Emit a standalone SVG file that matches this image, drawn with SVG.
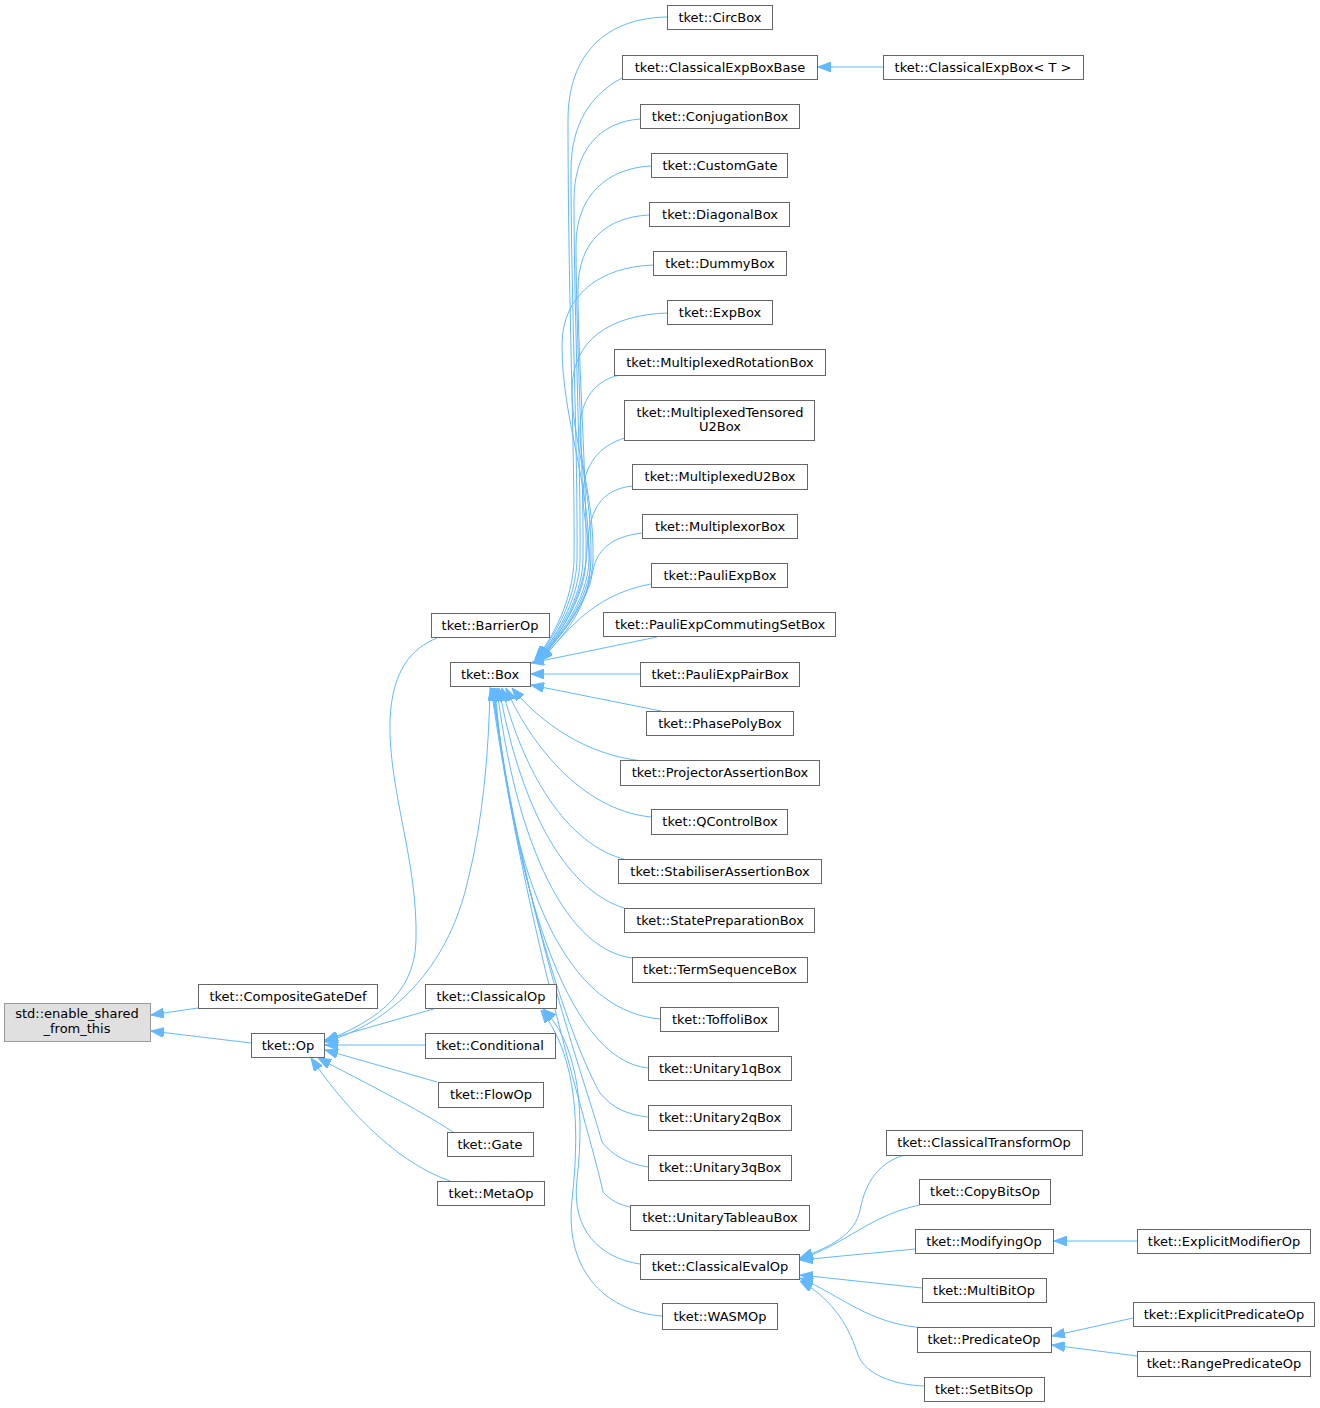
<svg xmlns="http://www.w3.org/2000/svg" width="1320" height="1408" viewBox="0 0 1320 1408">
<style>
.n rect{fill:#fff;stroke:#666;stroke-width:1}
.g rect{fill:#e0e0e0;stroke:#999}
text{font-family:"DejaVu Sans","Liberation Sans",sans-serif;font-size:13px;fill:#000;text-anchor:middle}
#edges path{fill:none;stroke:#63b8ff;stroke-width:1}
#edges path.a{marker-start:url(#arr)}
</style>
<defs>
<marker id="arr" markerUnits="userSpaceOnUse" markerWidth="13" markerHeight="10" refX="13" refY="5" orient="auto-start-reverse" viewBox="0 0 13 10">
<path d="M0,0 L13,5 L0,10 z" fill="#63b8ff" stroke="#63b8ff" stroke-width="1"/>
</marker>
</defs>
<rect width="1320" height="1408" fill="#fff"/>
<g id="edges">
<path class="a" d="M535,659 C552,640 573,600 574,560 C575,450 568,300 568,120 C568,55 605,18 667,17"/>
<path class="a" d="M535,660 C553,640 576,600 577,560 C578,450 571,300 571,170 C571,125 590,95 622,78"/>
<path class="a" d="M536,660 C554,641 579,600 580,560 C581,460 574,320 574,200 C574,150 600,122 640,119"/>
<path class="a" d="M536,659 C555,640 582,600 583,560 C584,470 576,340 576,245 C576,195 608,168 651,166"/>
<path class="a" d="M537,659 C556,640 585,600 586,560 C587,480 578,360 578,290 C578,240 608,217 649,215"/>
<path class="a" d="M537,660 C557,641 588,600 589,560 C590,480 562,420 562,345 C562,295 600,267 653,265"/>
<path class="a" d="M538,660 C558,641 590,600 591,560 C592,480 572,440 572,390 C572,340 610,315 667,313"/>
<path class="a" d="M538,659 C559,640 592,600 593,560 C594,500 580,470 580,430 C580,400 595,380 620,375"/>
<path class="a" d="M539,660 C560,641 593,605 590,560 C588,530 583,515 583,495 C583,465 600,445 625,438"/>
<path class="a" d="M539,660 C565,630 585,590 587,550 C589,510 600,490 632,486"/>
<path class="a" d="M540,660 C565,630 588,600 592,575 C596,550 610,537 642,533"/>
<path class="a" d="M540,661 C565,635 590,595 651,584"/>
<path class="a" d="M531,663 L657,637"/>
<path class="a" d="M531,674 L640,674"/>
<path class="a" d="M531,685 L661,711"/>
<path class="a" d="M512,688 C540,722 585,755 643,761"/>
<path class="a" d="M506,688 C528,740 580,810 651,817"/>
<path class="a" d="M502,688 C523,770 565,845 627,860"/>
<path class="a" d="M499,688 C518,795 560,890 627,909"/>
<path class="a" d="M497,688 C513,825 560,950 633,958"/>
<path class="a" d="M495,688 C508,855 555,1010 660,1019"/>
<path class="a" d="M494,688 C513,875 565,1060 648,1068"/>
<path class="a" d="M493,688 C518,895 575,1050 600,1093 C612,1108 628,1115 648,1117"/>
<path class="a" d="M492,688 C523,915 585,1080 602,1142 C612,1155 628,1164 648,1167"/>
<path class="a" d="M491,688 C528,945 590,1130 603,1192 C610,1200 620,1205 630,1207"/>
<path class="a" d="M325,1042 C400,1020 450,960 468,880 C483,820 489,750 490,687"/>
<path class="a" d="M543,1009 C575,1040 586,1100 577,1180 C571,1230 600,1258 640,1264"/>
<path class="a" d="M541,1010 C572,1050 582,1110 572,1200 C564,1275 610,1312 662,1316"/>
<path class="a" d="M325,1041 C365,1025 415,1000 416,940 C418,860 388,790 390,720 C392,670 412,648 437,638"/>
<path class="a" d="M325,1040 L437,1008"/>
<path class="a" d="M325,1045 L425,1045"/>
<path class="a" d="M325,1050 L437,1082"/>
<path class="a" d="M318,1058 C360,1080 420,1110 453,1132"/>
<path class="a" d="M311,1058 C340,1100 390,1160 450,1181"/>
<path class="a" d="M151,1031 L251,1043"/>
<path class="a" d="M151,1015 L198,1008"/>
<path class="a" d="M818,67 L883,67"/>
<path class="a" d="M800,1258 C830,1247 855,1235 860,1210 C866,1180 880,1162 905,1155"/>
<path class="a" d="M800,1259 C845,1245 870,1215 920,1205"/>
<path class="a" d="M800,1260 L915,1249"/>
<path class="a" d="M800,1275 L922,1288"/>
<path class="a" d="M800,1278 C840,1295 870,1325 926,1328"/>
<path class="a" d="M800,1281 C835,1300 850,1330 858,1355 C866,1375 895,1385 924,1386"/>
<path class="a" d="M1054,1241 L1137,1241"/>
<path class="a" d="M1052,1336 L1133,1318"/>
<path class="a" d="M1052,1345 L1137,1356"/>
</g>
<g id="enable_shared_from_this" class="g"><rect x="4.5" y="1003.5" width="146" height="38"/><text x="77" y="1018">std::enable_shared</text><text x="77" y="1033">_from_this</text></g>
<g id="CompositeGateDef" class="n"><rect x="198.5" y="984.5" width="179" height="24"/><text x="288" y="1001">tket::CompositeGateDef</text></g>
<g id="Op" class="n"><rect x="251.5" y="1033.5" width="73" height="24"/><text x="288" y="1050">tket::Op</text></g>
<g id="BarrierOp" class="n"><rect x="431.5" y="613.5" width="118" height="24"/><text x="490" y="630">tket::BarrierOp</text></g>
<g id="Box" class="n"><rect x="450.5" y="662.5" width="80" height="24"/><text x="490" y="679">tket::Box</text></g>
<g id="ClassicalOp" class="n"><rect x="425.5" y="984.5" width="131" height="24"/><text x="491" y="1001">tket::ClassicalOp</text></g>
<g id="Conditional" class="n"><rect x="425.5" y="1033.5" width="130" height="25"/><text x="490" y="1050">tket::Conditional</text></g>
<g id="FlowOp" class="n"><rect x="438.5" y="1082.5" width="105" height="25"/><text x="491" y="1099">tket::FlowOp</text></g>
<g id="Gate" class="n"><rect x="447.5" y="1132.5" width="86" height="24"/><text x="490" y="1149">tket::Gate</text></g>
<g id="MetaOp" class="n"><rect x="437.5" y="1181.5" width="107" height="24"/><text x="491" y="1198">tket::MetaOp</text></g>
<g id="CircBox" class="n"><rect x="667.5" y="5.5" width="105" height="24"/><text x="720" y="22">tket::CircBox</text></g>
<g id="ClassicalExpBoxBase" class="n"><rect x="622.5" y="55.5" width="195" height="24"/><text x="720" y="72">tket::ClassicalExpBoxBase</text></g>
<g id="ClassicalExpBox" class="n"><rect x="883.5" y="55.5" width="200" height="24"/><text x="983" y="72">tket::ClassicalExpBox&lt; T &gt;</text></g>
<g id="ConjugationBox" class="n"><rect x="640.5" y="104.5" width="159" height="24"/><text x="720" y="121">tket::ConjugationBox</text></g>
<g id="CustomGate" class="n"><rect x="651.5" y="153.5" width="136" height="24"/><text x="720" y="170">tket::CustomGate</text></g>
<g id="DiagonalBox" class="n"><rect x="649.5" y="202.5" width="140" height="24"/><text x="720" y="219">tket::DiagonalBox</text></g>
<g id="DummyBox" class="n"><rect x="653.5" y="251.5" width="133" height="24"/><text x="720" y="268">tket::DummyBox</text></g>
<g id="ExpBox" class="n"><rect x="667.5" y="300.5" width="105" height="24"/><text x="720" y="317">tket::ExpBox</text></g>
<g id="MultiplexedRotationBox" class="n"><rect x="614.5" y="349.5" width="211" height="26"/><text x="720" y="367">tket::MultiplexedRotationBox</text></g>
<g id="MultiplexedTensoredU2Box" class="n"><rect x="624.5" y="400.5" width="190" height="40"/><text x="720" y="417">tket::MultiplexedTensored</text><text x="720" y="431">U2Box</text></g>
<g id="MultiplexedU2Box" class="n"><rect x="632.5" y="464.5" width="175" height="25"/><text x="720" y="481">tket::MultiplexedU2Box</text></g>
<g id="MultiplexorBox" class="n"><rect x="642.5" y="514.5" width="155" height="24"/><text x="720" y="531">tket::MultiplexorBox</text></g>
<g id="PauliExpBox" class="n"><rect x="651.5" y="563.5" width="136" height="24"/><text x="720" y="580">tket::PauliExpBox</text></g>
<g id="PauliExpCommutingSetBox" class="n"><rect x="603.5" y="612.5" width="232" height="24"/><text x="720" y="629">tket::PauliExpCommutingSetBox</text></g>
<g id="PauliExpPairBox" class="n"><rect x="640.5" y="662.5" width="159" height="24"/><text x="720" y="679">tket::PauliExpPairBox</text></g>
<g id="PhasePolyBox" class="n"><rect x="646.5" y="711.5" width="147" height="24"/><text x="720" y="728">tket::PhasePolyBox</text></g>
<g id="ProjectorAssertionBox" class="n"><rect x="620.5" y="760.5" width="199" height="25"/><text x="720" y="777">tket::ProjectorAssertionBox</text></g>
<g id="QControlBox" class="n"><rect x="651.5" y="809.5" width="136" height="25"/><text x="720" y="826">tket::QControlBox</text></g>
<g id="StabiliserAssertionBox" class="n"><rect x="618.5" y="859.5" width="203" height="24"/><text x="720" y="876">tket::StabiliserAssertionBox</text></g>
<g id="StatePreparationBox" class="n"><rect x="624.5" y="908.5" width="190" height="24"/><text x="720" y="925">tket::StatePreparationBox</text></g>
<g id="TermSequenceBox" class="n"><rect x="632.5" y="957.5" width="175" height="25"/><text x="720" y="974">tket::TermSequenceBox</text></g>
<g id="ToffoliBox" class="n"><rect x="660.5" y="1007.5" width="118" height="24"/><text x="720" y="1024">tket::ToffoliBox</text></g>
<g id="Unitary1qBox" class="n"><rect x="648.5" y="1056.5" width="143" height="24"/><text x="720" y="1073">tket::Unitary1qBox</text></g>
<g id="Unitary2qBox" class="n"><rect x="648.5" y="1105.5" width="143" height="25"/><text x="720" y="1122">tket::Unitary2qBox</text></g>
<g id="Unitary3qBox" class="n"><rect x="648.5" y="1155.5" width="143" height="25"/><text x="720" y="1172">tket::Unitary3qBox</text></g>
<g id="UnitaryTableauBox" class="n"><rect x="630.5" y="1205.5" width="179" height="25"/><text x="720" y="1222">tket::UnitaryTableauBox</text></g>
<g id="ClassicalEvalOp" class="n"><rect x="640.5" y="1254.5" width="159" height="25"/><text x="720" y="1271">tket::ClassicalEvalOp</text></g>
<g id="WASMOp" class="n"><rect x="662.5" y="1303.5" width="115" height="26"/><text x="720" y="1321">tket::WASMOp</text></g>
<g id="ClassicalTransformOp" class="n"><rect x="886.5" y="1130.5" width="196" height="25"/><text x="984" y="1147">tket::ClassicalTransformOp</text></g>
<g id="CopyBitsOp" class="n"><rect x="919.5" y="1179.5" width="131" height="25"/><text x="985" y="1196">tket::CopyBitsOp</text></g>
<g id="ModifyingOp" class="n"><rect x="915.5" y="1229.5" width="138" height="24"/><text x="984" y="1246">tket::ModifyingOp</text></g>
<g id="ExplicitModifierOp" class="n"><rect x="1137.5" y="1229.5" width="173" height="24"/><text x="1224" y="1246">tket::ExplicitModifierOp</text></g>
<g id="MultiBitOp" class="n"><rect x="922.5" y="1278.5" width="124" height="24"/><text x="984" y="1295">tket::MultiBitOp</text></g>
<g id="PredicateOp" class="n"><rect x="917.5" y="1327.5" width="134" height="25"/><text x="984" y="1344">tket::PredicateOp</text></g>
<g id="ExplicitPredicateOp" class="n"><rect x="1133.5" y="1302.5" width="181" height="24"/><text x="1224" y="1319">tket::ExplicitPredicateOp</text></g>
<g id="RangePredicateOp" class="n"><rect x="1137.5" y="1351.5" width="173" height="25"/><text x="1224" y="1368">tket::RangePredicateOp</text></g>
<g id="SetBitsOp" class="n"><rect x="924.5" y="1377.5" width="120" height="24"/><text x="984" y="1394">tket::SetBitsOp</text></g>
</svg>
